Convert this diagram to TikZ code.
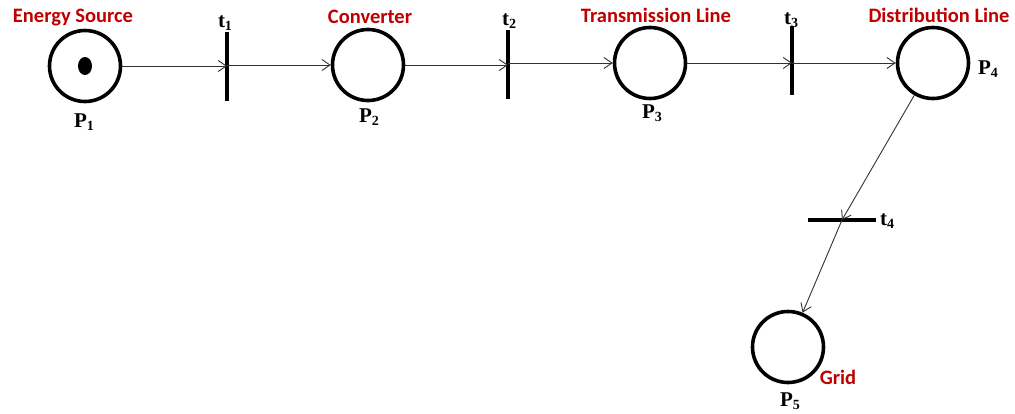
\documentclass[tikz,border=0pt]{standalone}
\usepackage{fontspec}
\usetikzlibrary{arrows.meta,shapes.geometric}
\newfontfamily\petriserif{Liberation Serif}
\newfontfamily\petrisans{Carlito}
\definecolor{labelred}{RGB}{192,0,0}
\definecolor{arcgray}{RGB}{50,50,50}
\newcommand{\sublabel}[2]{#1\raisebox{-0.35ex}{\fontsize{14}{14}\selectfont #2}}
\tikzset{
  place/.style={circle,draw=black,line width=3.6pt,minimum size=71pt,inner sep=0pt},
  token/.style={ellipse,fill=black,minimum width=14pt,minimum height=18pt,inner sep=0pt},
  vtrans/.style={rectangle,fill=black,minimum width=4pt,minimum height=69pt,inner sep=0pt},
  htrans/.style={rectangle,fill=black,minimum width=68pt,minimum height=4pt,inner sep=0pt},
  arc/.style={draw=arcgray,line width=0.9pt,-{Straight Barb[length=8pt,width=11pt,line width=0.9pt]}},
  pname/.style={font=\petriserif\bfseries\fontsize{21}{21}\selectfont,inner sep=0pt},
  role/.style={font=\petrisans\bfseries\fontsize{20.5}{20.5}\selectfont,text=labelred,inner sep=0pt}
}
\begin{document}
\begin{tikzpicture}[x=1pt,y=-1pt]
\useasboundingbox[fill=white] (0,0) rectangle (1015,413);

% places
\node[place] (P1) at (85,66) {};
\node[token] (tok) at (85,66) {};
\node[place] (P2) at (368,65) {};
\node[place] (P3) at (650,63) {};
\node[place] (P4) at (933,63) {};
\node[place] (P5) at (788,347) {};

% transitions
\node[vtrans] (t1) at (227,66) {};
\node[vtrans] (t2) at (508,64) {};
\node[vtrans] (t3) at (792,60) {};
\node[htrans] (t4) at (842,220) {};

% arcs (the horizontal ones cross each bar at the height of the places)
\draw[arc] (P1) -- (P1 -| t1);
\draw[arc] (P2 -| t1) -- (P2);
\draw[arc] (P2) -- (P2 -| t2);
\draw[arc] (P3 -| t2) -- (P3);
\draw[arc] (P3) -- (P3 -| t3);
\draw[arc] (P4 -| t3) -- (P4);
\draw[arc] (P4) -- (t4.center);
\draw[arc] (t4.center) -- (P5);

% place and transition names
\node[pname] (lP1) at (84,122) {\sublabel{P}{1}};
\node[pname] (lP2) at (369,117) {\sublabel{P}{2}};
\node[pname] (lP3) at (652,113) {\sublabel{P}{3}};
\node[pname] (lP4) at (988,69) {\sublabel{P}{4}};
\node[pname] (lP5) at (790,401) {\sublabel{P}{5}};
\node[pname] (lt1) at (225,23) {\sublabel{t}{1}};
\node[pname] (lt2) at (509,21) {\sublabel{t}{2}};
\node[pname] (lt3) at (791,20) {\sublabel{t}{3}};
\node[pname] (lt4) at (887,221) {\sublabel{t}{4}};

% component labels
\node[role] (rP1) at (73,18) {Energy Source};
\node[role] (rP2) at (370,17) {Converter};
\node[role] (rP3) at (656,15) {Transmission Line};
\node[role] (rP4) at (939,15) {Distribution Line};
\node[role] (rP5) at (838,377) {Grid};
\end{tikzpicture}
\end{document}
